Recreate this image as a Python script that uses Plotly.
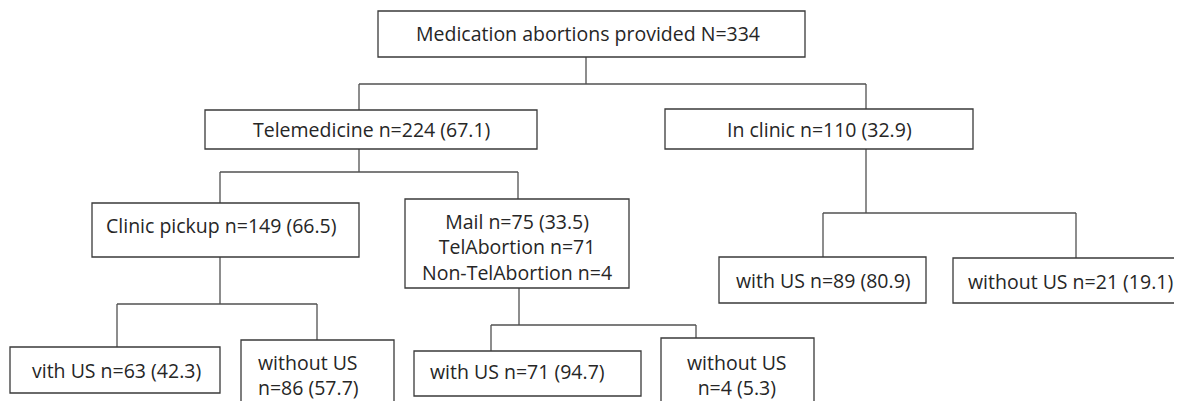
import plotly.graph_objects as go

# ---- data ----
node_names = ["Medication abortions provided", "Telemedicine", "In clinic",
              "Clinic pickup", "Mail", "vith US", "without US",
              "with US", "without US", "with US", "without US"]
node_n = [334, 224, 110, 149, 75, 63, 86, 71, 4, 89, 21]
node_pct = [None, 67.1, 32.9, 66.5, 33.5, 42.3, 57.7, 94.7, 5.3, 80.9, 19.1]
mail_sub_names = ["TelAbortion", "Non-TelAbortion"]
mail_sub_n = [71, 4]
# parent index -> child indices
children = {0: [1, 2], 1: [3, 4], 2: [9, 10], 3: [5, 6], 4: [7, 8]}

# ---- layout (positions in pixel-like data coordinates) ----
boxes = [  # x0, x1, y0, y1
    (378, 805, 11, 57),
    (205, 537, 110, 149),
    (665, 973, 109, 149),
    (92, 359, 203, 257),
    (405, 629, 199, 288),
    (10, 220, 347, 393),
    (241, 394, 340, 420),
    (414, 641, 351, 396),
    (661, 814, 338, 420),
    (719, 926, 257, 303),
    (953, 1200, 258, 303),
]
stem_x = {0: 586, 1: 359, 2: 866, 3: 220, 4: 519}
bus_y = {0: 84, 1: 172, 2: 213, 3: 304, 4: 325}
drop_x = {1: 359, 2: 866, 3: 220, 4: 518, 9: 823, 10: 1076, 5: 117, 6: 317, 7: 491, 8: 696}
text_pos = {
    0: (588, 33, "center"), 1: (371, 129, "center"), 2: (819, 129, "center"),
    3: (221, 225, "center"), 4: (517, 247, "center"), 5: (116, 370, "center"),
    6: (256, 375, "left"), 7: (517, 371, "center"), 8: (737, 375, "center"),
    9: (823, 280, "center"), 10: (1070, 281, "center"),
}
two_line = {6, 8}

LINE = "#505050"
EDGE = "#3a3a3a"
FONT = dict(family="Open Sans, Noto Sans, sans-serif", size=19.5, color="#262626")

# page body has an 8px margin: offset the plotting area so data coords = window pixels
OFF = 8


def label(i):
    if node_pct[i] is None:
        return f"{node_names[i]} N={node_n[i]}"
    sep = "<br>" if i in two_line else " "
    s = f"{node_names[i]}{sep}n={node_n[i]} ({node_pct[i]})"
    if i == 4:
        for nm, v in zip(mail_sub_names, mail_sub_n):
            s += f"<br>{nm} n={v}"
    return s


fig = go.Figure()
shapes = []
for (x0, x1, y0, y1) in boxes:
    shapes.append(dict(type="rect", xref="x", yref="y", x0=x0, x1=x1, y0=y0, y1=y1,
                       line=dict(color=EDGE, width=1.3), fillcolor="white", layer="above"))

# connectors
lx, ly = [], []
for p, kids in children.items():
    px = stem_x[p]
    by = bus_y[p]
    lx += [px, px, None]
    ly += [boxes[p][3], by, None]
    xs = [drop_x[k] for k in kids]
    lx += [min(xs), max(xs), None]
    ly += [by, by, None]
    for k in kids:
        lx += [drop_x[k], drop_x[k], None]
        ly += [by, boxes[k][2], None]
fig.add_trace(go.Scatter(x=lx, y=ly, mode="lines", line=dict(color=LINE, width=1.3),
                         hoverinfo="skip", showlegend=False))

annotations = []
for i in range(len(node_names)):
    x, y, xa = text_pos[i]
    annotations.append(dict(x=x, y=y, xref="x", yref="y", text=label(i), showarrow=False,
                            xanchor=xa, yanchor="middle", align=xa,
                            font=FONT))

fig.update_layout(
    width=1182 - OFF, height=401 - OFF, margin=dict(l=0, r=0, t=0, b=0),
    paper_bgcolor="white", plot_bgcolor="white",
    xaxis=dict(range=[OFF, 1182], visible=False, fixedrange=True),
    yaxis=dict(range=[401, OFF], visible=False, fixedrange=True),
    shapes=shapes, annotations=annotations, showlegend=False,
)
fig.write_html("out.html")
